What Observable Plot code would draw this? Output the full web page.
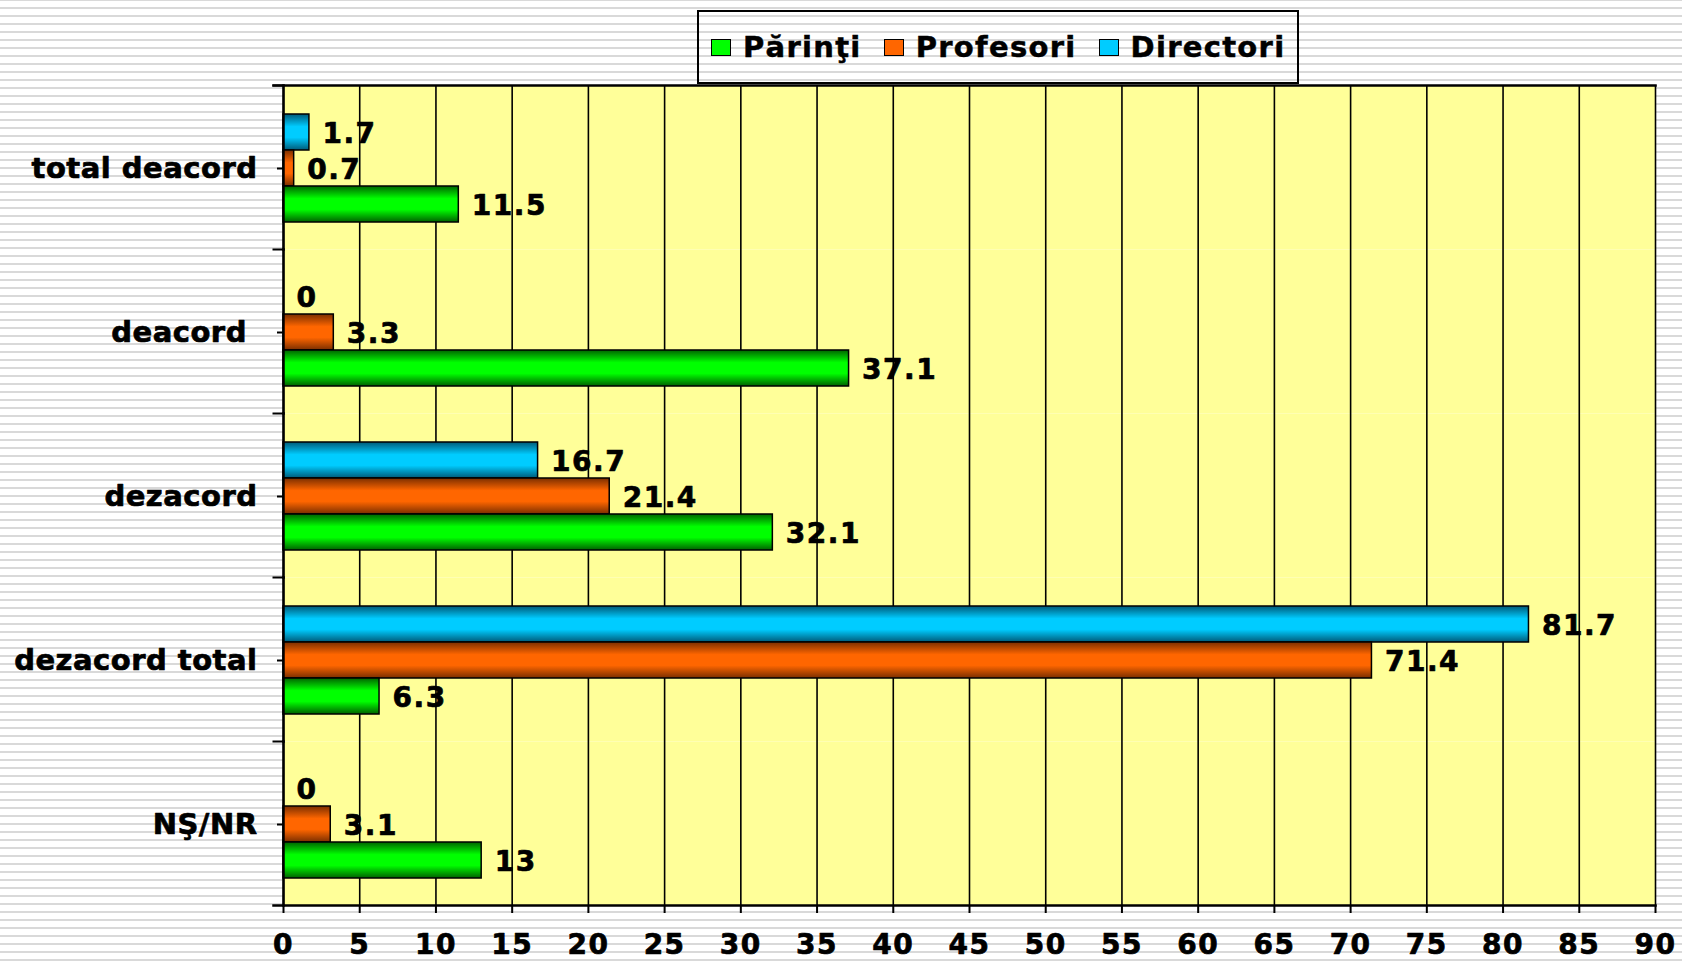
<!DOCTYPE html>
<html>
<head>
<meta charset="utf-8">
<script src="https://cdn.jsdelivr.net/npm/d3@7"></script>
<script src="https://cdn.jsdelivr.net/npm/@observablehq/plot@0.6"></script>
<style>
html, body { margin: 0; padding: 0; }
body {
  width: 1682px; height: 961px; overflow: hidden; position: relative;
  background: repeating-linear-gradient(to bottom, #d9d9d9 0px, #d9d9d9 1px, #ffffff 1px, #ffffff 7px, #d9d9d9 7px, #d9d9d9 8px);
  font-family: "DejaVu Sans", Verdana, sans-serif;
}
#chart { position: absolute; left: 0; top: 0; }
#chart text { stroke: #000; stroke-width: 0.7px; paint-order: stroke; stroke-linejoin: round; }
#chart [aria-label="fy-axis tick label"] text { letter-spacing: 0.5px; }
#legend {
  position: absolute; left: 697px; top: 10px; width: 602px; height: 74px;
  box-sizing: border-box; border: 2px solid #000;
  display: flex; align-items: center; padding-left: 12px;
  font-weight: bold; font-size: 29px; letter-spacing: 1.3px; color: #000;
  -webkit-text-stroke: 0.5px #000;
}
#legend .item { display: flex; align-items: center; margin-right: 22px; }
#legend .sw { width: 20px; height: 17px; box-sizing: border-box; border: 1.5px solid #000; margin-right: 12px; }
</style>
</head>
<body>
<svg width="0" height="0" style="position:absolute">
  <defs>
    <linearGradient id="gDir" x1="0" y1="0" x2="0" y2="1">
      <stop offset="0" stop-color="#005a78"/>
      <stop offset="0.35" stop-color="#00ccff"/>
      <stop offset="0.65" stop-color="#00ccff"/>
      <stop offset="1" stop-color="#005a78"/>
    </linearGradient>
    <linearGradient id="gProf" x1="0" y1="0" x2="0" y2="1">
      <stop offset="0" stop-color="#7a2e00"/>
      <stop offset="0.35" stop-color="#ff6600"/>
      <stop offset="0.65" stop-color="#ff6600"/>
      <stop offset="1" stop-color="#7a2e00"/>
    </linearGradient>
    <linearGradient id="gPar" x1="0" y1="0" x2="0" y2="1">
      <stop offset="0" stop-color="#006400"/>
      <stop offset="0.35" stop-color="#00ff00"/>
      <stop offset="0.65" stop-color="#00ff00"/>
      <stop offset="1" stop-color="#006000"/>
    </linearGradient>
  </defs>
</svg>
<div id="chart"></div>
<div id="legend">
  <div class="item"><div class="sw" style="background:#00ff00"></div>Părinţi</div>
  <div class="item"><div class="sw" style="background:#ff6600"></div>Profesori</div>
  <div class="item"><div class="sw" style="background:#00ccff"></div>Directori</div>
</div>
<script>
// ---- data ----
const categories = ["total deacord", "deacord ", "dezacord", "dezacord total", "NŞ/NR"];
const seriesNames = ["Directori", "Profesori", "Părinţi"];
const directori = [1.7, 0, 16.7, 81.7, 0];
const profesori = [0.7, 3.3, 21.4, 71.4, 3.1];
const parinti = [11.5, 37.1, 32.1, 6.3, 13];
const xTicks = [0, 5, 10, 15, 20, 25, 30, 35, 40, 45, 50, 55, 60, 65, 70, 75, 80, 85, 90];
const gradients = ["url(#gDir)", "url(#gProf)", "url(#gPar)"];

const data = categories.flatMap((c, i) => [
  {cat: c, series: "Directori", value: directori[i]},
  {cat: c, series: "Profesori", value: profesori[i]},
  {cat: c, series: "Părinţi", value: parinti[i]}
]);

const W = 1682, H = 961;
const mL = 283, mR = 27, mT = 84, mB = 55;
const plotW = W - mL - mR;

const chart = Plot.plot({
  width: W,
  height: H,
  marginLeft: mL,
  marginRight: mR,
  marginTop: mT,
  marginBottom: mB,
  style: {background: "transparent", fontFamily: "'DejaVu Sans', Verdana, sans-serif", fontWeight: "bold", letterSpacing: "1.5px", color: "#000", overflow: "visible"},
  x: {domain: [0, 90]},
  y: {domain: seriesNames, paddingInner: 0, paddingOuter: 0.72, align: 0.52, axis: null},
  fy: {domain: categories, padding: 0},
  color: {domain: seriesNames, range: gradients},
  marks: [
    Plot.frame({fill: "#ffff99", stroke: "none"}),
    Plot.gridX({ticks: xTicks, stroke: "#000", strokeOpacity: 1, strokeWidth: 1.6}),
    Plot.barX(data, {x: "value", y: "series", fy: "cat", fill: "series", stroke: "#000", strokeWidth: 1.5}),
    Plot.text(data, {x: "value", y: "series", fy: "cat", text: d => String(d.value), textAnchor: "start", dx: 13, dy: 2, fontSize: 28, fontWeight: "bold", fill: "#000"}),
    Plot.frame({anchor: "left", stroke: "#000", strokeWidth: 2.5}),
    Plot.frame({anchor: "top", insetLeft: -10, insetRight: plotW, stroke: "#000", strokeWidth: 2}),
    Plot.frame({anchor: "top", insetLeft: -10, facetAnchor: "top", stroke: "#000", strokeWidth: 2.5}),
    Plot.frame({anchor: "bottom", insetLeft: -10, facetAnchor: "bottom", stroke: "#000", strokeWidth: 2.5}),
    Plot.axisFy({anchor: "left", label: null, tickSize: 6, tickPadding: 20, strokeWidth: 2, fontSize: 29, fontWeight: "bold", dy: 1}),
    Plot.axisX({ticks: xTicks, anchor: "bottom", label: null, tickSize: 8, tickPadding: 21, strokeWidth: 2, fontSize: 28, fontWeight: "bold"})
  ]
});
document.getElementById("chart").appendChild(chart);
</script>
</body>
</html>
